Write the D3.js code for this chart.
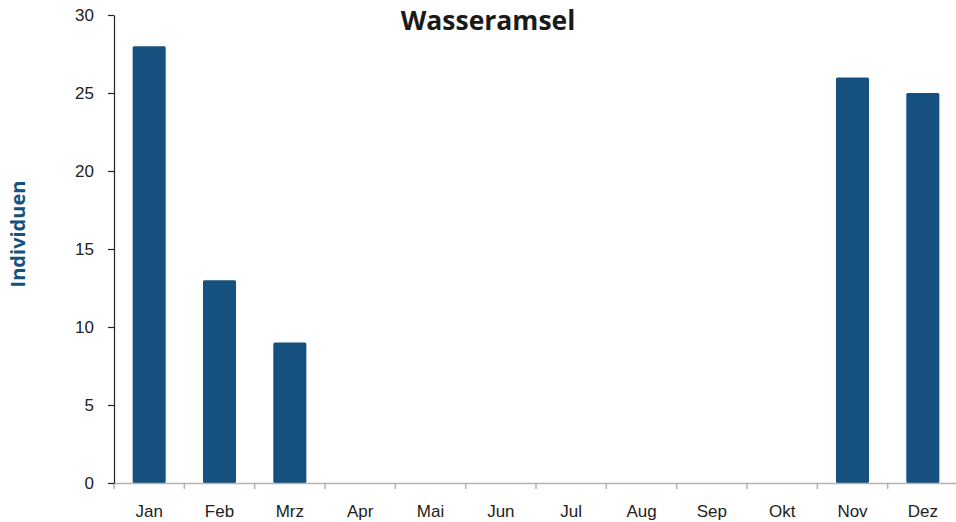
<!DOCTYPE html>
<html>
<head>
<meta charset="utf-8">
<script src="https://cdn.jsdelivr.net/npm/d3@7"></script>
<style>
  body { margin: 0; background: #fff; }
  svg { display: block; font-family: Lato, "Open Sans", sans-serif; }
</style>
</head>
<body>
<div id="viz"></div>
<script>
// Monthly counts
const months = ['Jan', 'Feb', 'Mrz', 'Apr', 'Mai', 'Jun', 'Jul', 'Aug', 'Sep', 'Okt', 'Nov', 'Dez'];
const counts = [28, 13, 9, 0, 0, 0, 0, 0, 0, 0, 26, 25];
const yTicks = [0, 5, 10, 15, 20, 25, 30];

const width = 956, height = 522;
const margin = { top: 15, right: 0, bottom: 39, left: 114 };

const svg = d3.select('#viz').append('svg')
    .attr('width', width)
    .attr('height', height);

const xScale = d3.scaleBand()
    .domain(months)
    .range([margin.left, 958])
    .paddingInner(0.53)
    .paddingOuter(0.265);

const xAxisScale = d3.scaleBand().domain(months).range([margin.left, 958]);

const yScale = d3.scaleLinear()
    .domain([0, 30])
    .range([height - margin.bottom, margin.top]);

// bars
svg.selectAll('.bar')
    .data(months.map((m, i) => [m, counts[i]]).filter(d => d[1] > 0))
    .enter()
    .append('rect')
    .attr('class', 'bar')
    .attr('x', d => xScale(d[0]))
    .attr('y', d => yScale(d[1]))
    .attr('width', xScale.bandwidth())
    .attr('height', d => yScale(0) - yScale(d[1]))
    .attr('rx', 1.5)
    .attr('fill', '#15507f');

// x axis
const xg = svg.append('g')
    .attr('transform', `translate(0,${yScale(0)})`)
    .call(d3.axisBottom(xAxisScale).tickSize(0).tickSizeOuter(0));
xg.select('.domain').attr('stroke', '#b3b3b3').attr('stroke-width', 1.5);
xg.selectAll('text')
    .attr('dy', 0)
    .attr('y', 34)
    .style('font-size', '17px')
    .attr('fill', '#222');
// tick marks between categories
svg.selectAll('.xtick')
    .data(months)
    .enter()
    .append('line')
    .attr('x1', d => xAxisScale(d))
    .attr('x2', d => xAxisScale(d))
    .attr('y1', yScale(0))
    .attr('y2', yScale(0) + 6)
    .attr('stroke', '#b3b3b3')
    .attr('stroke-width', 1.5);

// y axis
const yg = svg.append('g')
    .attr('transform', `translate(${margin.left},0)`)
    .call(d3.axisLeft(yScale).tickValues(yTicks).tickSize(6).tickSizeOuter(0));
yg.select('.domain').attr('stroke', '#222').attr('stroke-width', 1.2);
yg.selectAll('line').attr('stroke', '#222').attr('stroke-width', 1.2);
yg.selectAll('text')
    .attr('x', -20)
    .style('font-size', '17px')
    .attr('fill', '#222');

// title
svg.append('text')
    .attr('x', 488)
    .attr('y', 30)
    .attr('text-anchor', 'middle')
    .style('font-family', '"Open Sans", sans-serif')
    .style('font-size', '26.5px')
    .style('font-weight', 'bold')
    .attr('fill', '#1a1a1a')
    .text('Wasseramsel');

// y label
svg.append('text')
    .attr('transform', 'translate(25,234) rotate(-90)')
    .attr('text-anchor', 'middle')
    .style('font-family', '"Open Sans", sans-serif')
    .style('font-size', '20px')
    .style('font-weight', 'bold')
    .attr('fill', '#15507f')
    .text('Individuen');
</script>
</body>
</html>
